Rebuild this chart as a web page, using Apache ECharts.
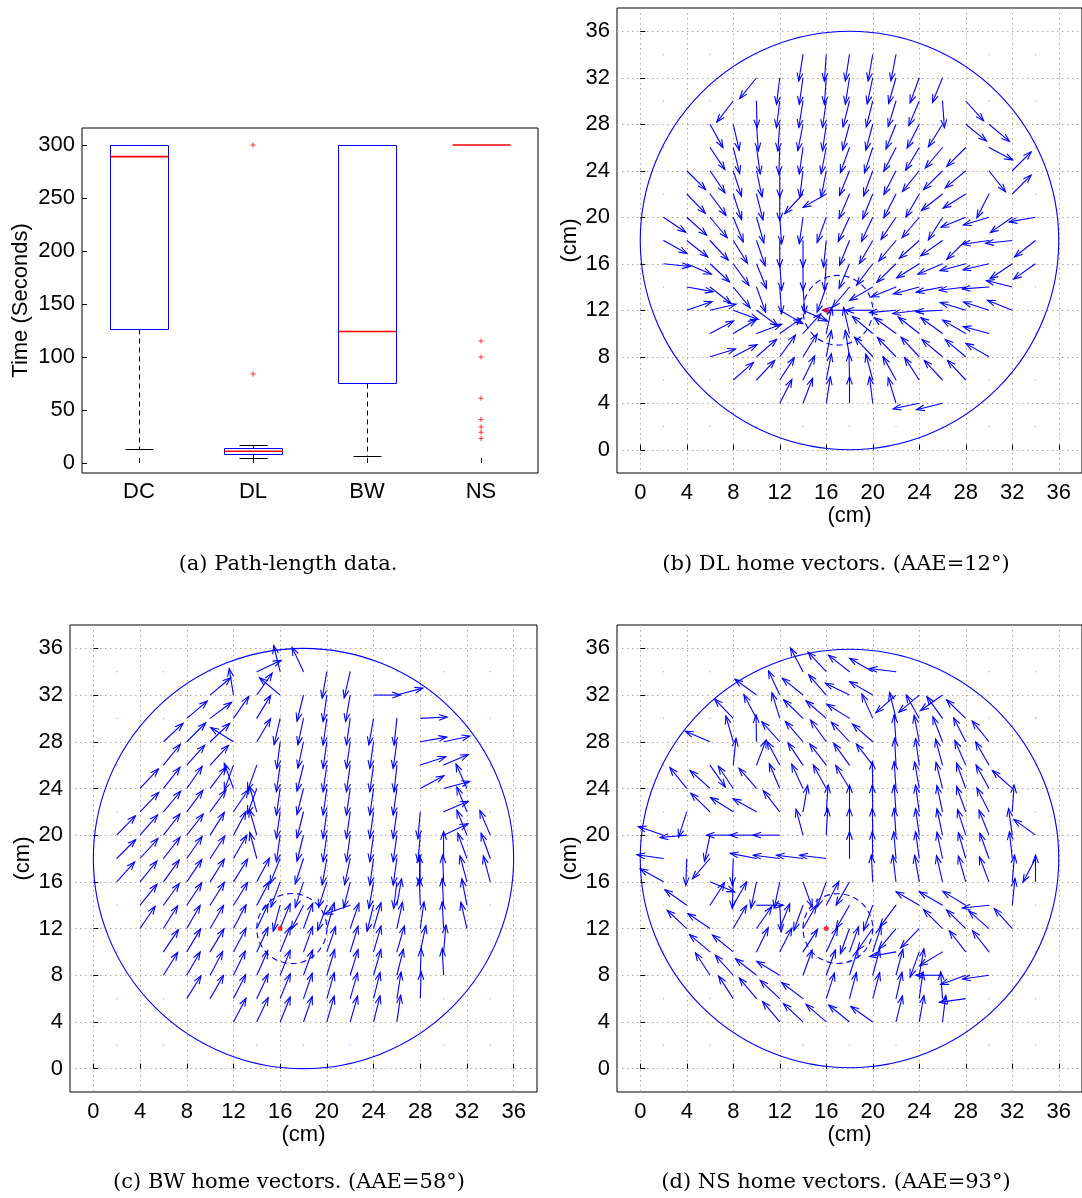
<!DOCTYPE html>
<html><head><meta charset="utf-8">
<script src="https://cdn.jsdelivr.net/npm/echarts@6/dist/echarts.min.js"></script>
<style>html,body{margin:0;padding:0;background:#fff}#c{width:1082px;height:1198px}</style>
</head><body><div id="c"></div>
<script>
// ---------- data ----------
const boxCategories = ['DC', 'DL', 'BW', 'NS'];
// [category index, lower whisker, q1, median, q3, upper whisker]
const boxStats = [
  [0, 13, 126, 289, 300, 300],
  [1, 5, 8.5, 11, 14, 17],
  [2, 7, 75, 124, 300, 300],
  [3, 300, 300, 300, 300, 300]
];
const boxOutliers = [[1, 84], [1, 300], [3, 115], [3, 100], [3, 61], [3, 41], [3, 34], [3, 29], [3, 23]];
const timeTicks = [0, 50, 100, 150, 200, 250, 300];
const cmTicks = [0, 4, 8, 12, 16, 20, 24, 28, 32, 36];
const dotCoords = [2, 6, 10, 14, 18, 22, 26, 30, 34];
const homePoint = [16, 12];
const arenaCircle = [18, 18, 18];   // cx, cy, r (cm)
const catchmentCircle = [17, 12, 3];

// rows: [y, first x, angles (deg) for x, x+2, ...]; null = no arrow
const dlRows = [
  [34, 14, [261, 266, 261, 260, 259]],
  [32, 10, [231, 263, 262, 266, 261, 258, 254, 250, 248]],
  [30, 8, [232, 271, 263, 261, 262, 256, 256, 253, 247, 274, 312]],
  [28, 6, [299, 283, 274, 266, 259, 262, 255, 255, 248, 243, 238, 321, 320]],
  [26, 6, [304, 284, 278, 268, 262, 259, 250, 252, 243, 239, 230, 225, 332]],
  [24, 4, [315, 304, 288, 282, 270, 263, 259, 248, 250, 243, 231, 225, 220, 308, 45]],
  [22, 4, [314, 307, 288, 284, 270, 227, 210, 247, 248, 243, 240, 218, 212, 243, 45]],
  [20, 2, [326, 318, 310, 292, 286, 274, 262, 250, 245, 245, 236, 230, 238, 202, 197, 215, 190]],
  [18, 2, [331, 322, 313, 302, 289, 270, 270, 264, 248, 240, 230, 222, 215, 225, 188, 186, 218]],
  [16, 2, [354, 337, 317, 306, 292, 274, 270, 266, 247, 233, 224, 212, 203, 195, 193, 214, 215]],
  [14, 4, [350, 322, 309, 290, 274, 274, 250, 230, 210, 202, 195, 191, 187, 184, 166]],
  [12, 4, [19, 13, 340, 324, 330, 336, null, 180, 180, 185, 187, 183, 163, 162, 158]],
  [10, 6, [28, 31, 20, 35, 48, 78, 103, 140, 144, 142, 144, 150, 165]],
  [8, 6, [17, 27, 41, 54, 58, 79, 99, 133, 134, 133, 140, 140, 150]],
  [6, 8, [41, 47, 57, 64, 79, 91, 105, 119, 123, 133, 133]],
  [4, 12, [63, 69, 81, 90, 97, 107, 192, 194]]
];
const bwRows = [
  [34, 14, [25, 104, 115, 260, 257]],
  [32, 10, [40, 99, 55, 140, 256, 262, 260, 0, 15]],
  [30, 8, [40, 37, 55, 59, 257, 258, 262, 262, 260, 264, 3]],
  [28, 6, [43, 45, 43, 148, 59, 263, 258, 262, 262, 262, 262, 10, 12]],
  [26, 6, [51, 48, 47, 250, 250, 262, 256, 262, 262, 262, 264, 18, 23]],
  [24, 4, [47, 52, 55, 53, 110, 250, 262, 256, 262, 262, 262, 262, 28, 15, 114]],
  [22, 4, [46, 50, 53, 54, 56, 106, 262, 256, 262, 262, 262, 262, 265, 23, 112]],
  [20, 2, [46, 49, 52, 52, 58, 62, 106, 262, 256, 262, 262, 262, 262, 265, 25, 112, 113]],
  [18, 2, [45, 48, 52, 55, 57, 60, 105, 248, 252, 260, 258, 262, 262, 268, 90, 110, 110]],
  [16, 2, [48, 51, 54, 56, 58, 58, 62, 250, 252, 252, 256, 260, 263, 92, 92, 105, 105]],
  [14, 4, [51, 54, 56, 58, 58, 62, 255, 243, 250, 199, 256, 80, 92, 93, 101]],
  [12, 4, [56, 58, 60, 60, 62, 65, 68, 70, 74, 71, 74, 78, 82, 93, 103]],
  [10, 6, [56, 59, 59, 62, 65, 68, 70, 71, 73, 74, 74, 78, 85]],
  [8, 6, [58, 60, 62, 64, 66, 68, 70, 73, 73, 74, 76, 88, 93]],
  [6, 8, [58, 60, 63, 65, 68, 71, 74, 74, 76, 81, 88]],
  [4, 12, [62, 65, 68, 71, 74, 74, 76, 82]]
];
const nsRows = [
  [34, 14, [118, 133, 142, 150, 173]],
  [32, 10, [144, 115, 141, 131, 154, 150, 221, 220, 215]],
  [30, 8, [134, 118, 107, 136, 139, 148, 114, 104, 119, 126, 136]],
  [28, 6, [157, 106, 91, 132, 131, 126, 133, 139, 94, 101, 111, 117, 129]],
  [26, 6, [305, 84, 69, 118, 124, 128, 126, 128, 93, 98, 105, 114, 120]],
  [24, 4, [129, 138, 124, 131, 113, 115, 119, 121, 91, 94, 100, 104, 110, 119, 138]],
  [22, 4, [252, 136, 148, 151, 128, 80, 86, 90, 91, 94, 98, 102, 110, 117, 86]],
  [20, 2, [161, 185, 258, 180, 180, 180, 105, 87, 90, 91, 94, 98, 102, 108, 112, 98, 144]],
  [18, 2, [172, 268, 229, 268, 169, 173, 173, 173, 90, 91, 95, 98, 102, 106, 110, 96, 242]],
  [16, 2, [151, null, 338, 268, 258, 258, 290, 250, 240, 93, 97, 100, 103, 106, 111, 85, 90]],
  [14, 4, [145, 57, 60, 0, 273, 250, 62, 240, 250, 233, 150, 150, 149, 186, 84]],
  [12, 4, [137, 146, 60, 55, 68, 60, null, 250, 235, 230, 226, 135, 136, 139, 132]],
  [10, 6, [140, 141, 64, 63, 57, 65, 70, 72, 190, 250, 211, 128, 128]],
  [8, 6, [123, 132, 142, 149, 70, 70, 72, 75, 75, 80, 180, 200, 188]],
  [6, 8, [123, 130, 137, 143, 72, 75, 75, 77, 82, 94, 188]],
  [4, 12, [130, 137, 139, 141, 145, 76, 80, 83]]
];
const captions = [
  ['(a) Path-length data.', 288, 565],
  ['(b) DL home vectors. (AAE=12°)', 836, 565],
  ['(c) BW home vectors. (AAE=58°)', 289, 1183],
  ['(d) NS home vectors. (AAE=93°)', 836, 1183]
];

// ---------- helpers ----------
const ARROW_LEN = 2.3;
const BLUE = '#0000ff';
const FONT = 'Liberation Sans';

function expandRows(rows) {
  const out = [];
  rows.forEach(([y, x0, angles]) => {
    angles.forEach((a, i) => { if (a !== null) out.push([x0 + 2 * i, y, a]); });
  });
  return out;
}
const dotData = [];
dotCoords.forEach(x => dotCoords.forEach(y => dotData.push([x, y])));

function arrowItem(params, api) {
  const x = api.value(0), y = api.value(1), a = api.value(2) * Math.PI / 180;
  const p0 = api.coord([x, y]);
  const p1 = api.coord([x + ARROW_LEN * Math.cos(a), y + ARROW_LEN * Math.sin(a)]);
  const dx = p1[0] - p0[0], dy = p1[1] - p0[1];
  const len = Math.hypot(dx, dy) || 1;
  const ux = -dx / len, uy = -dy / len;
  const h = len * 0.32, t = 20 * Math.PI / 180;
  const c = Math.cos(t), s = Math.sin(t);
  const h1 = [p1[0] + h * (ux * c - uy * s), p1[1] + h * (ux * s + uy * c)];
  const h2 = [p1[0] + h * (ux * c + uy * s), p1[1] + h * (-ux * s + uy * c)];
  const st = { stroke: BLUE, lineWidth: 1.1, fill: null };
  return {
    type: 'group', children: [
      { type: 'line', shape: { x1: p0[0], y1: p0[1], x2: p1[0], y2: p1[1] }, style: st },
      { type: 'polyline', shape: { points: [h1, p1, h2] }, style: st }
    ]
  };
}
function circleItem(dashed) {
  return function (params, api) {
    const c = api.coord([api.value(0), api.value(1)]);
    const r = api.size([api.value(2), 0])[0];
    return {
      type: 'circle', shape: { cx: c[0], cy: c[1], r: r },
      style: { stroke: BLUE, fill: null, lineWidth: 1.1, lineDash: dashed ? [6, 4] : null }
    };
  };
}
const crisp = v => Math.round(v) + 0.5;

const grids = [
  { left: 82, top: 128, width: 456, height: 345 },
  { left: 617, top: 8, width: 467, height: 465 },
  { left: 70, top: 625, width: 467, height: 467 },
  { left: 617, top: 625, width: 467, height: 467 }
].map(g => Object.assign(g, { show: true, borderColor: '#000', borderWidth: 1, backgroundColor: 'transparent' }));

const labelStyle = { fontFamily: FONT, fontSize: 22, color: '#000' };
const xAxes = [{
  type: 'category', gridIndex: 0, data: boxCategories, boundaryGap: true,
  axisLine: { show: false },
  axisTick: { show: true, inside: true, length: 5, alignWithLabel: true, lineStyle: { color: '#000' } },
  axisLabel: Object.assign({ margin: 8 }, labelStyle),
  splitLine: { show: false }
}];
const yAxes = [{
  type: 'value', gridIndex: 0, min: -9.5, max: 316,
  axisLine: { show: false },
  axisTick: { show: true, inside: true, length: 5, customValues: timeTicks, lineStyle: { color: '#000' } },
  axisLabel: Object.assign({ margin: 7, customValues: timeTicks }, labelStyle),
  splitLine: { show: false },
  name: 'Time (Seconds)', nameLocation: 'middle', nameGap: 50, nameTextStyle: labelStyle
}];
for (let g = 1; g <= 3; g++) {
  const common = {
    type: 'value', gridIndex: g, min: -2, max: 38,
    axisLine: { show: false },
    axisTick: { show: true, inside: true, length: 5, customValues: cmTicks, lineStyle: { color: '#000' } },
    splitLine: { show: true, lineStyle: { color: '#a8a8a8', type: [1.5, 3.5], width: 1 } },
    name: '(cm)', nameLocation: 'middle', nameTextStyle: labelStyle
  };
  xAxes.push(Object.assign({}, common, { axisLabel: Object.assign({ margin: 9, customValues: cmTicks }, labelStyle), nameGap: 29 }));
  yAxes.push(Object.assign({}, common, { axisLabel: Object.assign({ margin: 7, customValues: cmTicks }, labelStyle), nameGap: 36 }));
}

const series = [];
// box plot
series.push({
  type: 'custom', xAxisIndex: 0, yAxisIndex: 0, data: boxStats, z: 3,
  renderItem: function (params, api) {
    const i = api.value(0);
    const bw = api.size([1, 0])[0];
    const lo = crisp(api.coord([i, api.value(1)])[1]), q1 = crisp(api.coord([i, api.value(2)])[1]);
    const md = api.coord([i, api.value(3)])[1], q3 = crisp(api.coord([i, api.value(4)])[1]);
    const hi = crisp(api.coord([i, api.value(5)])[1]);
    const cx = crisp(api.coord([i, api.value(2)])[0]), hw = Math.round(bw * 0.25), cw = Math.round(bw * 0.125);
    const ch = [];
    const dash = { stroke: '#000', lineWidth: 1, lineDash: [5, 4] };
    const solid = { stroke: '#000', lineWidth: 1 };
    if (api.value(1) < api.value(2)) {
      ch.push({ type: 'line', shape: { x1: cx, y1: q1, x2: cx, y2: lo }, style: dash });
      ch.push({ type: 'line', shape: { x1: cx - cw, y1: lo, x2: cx + cw, y2: lo }, style: solid });
    }
    if (api.value(5) > api.value(4)) {
      ch.push({ type: 'line', shape: { x1: cx, y1: q3, x2: cx, y2: hi }, style: dash });
      ch.push({ type: 'line', shape: { x1: cx - cw, y1: hi, x2: cx + cw, y2: hi }, style: solid });
    }
    if (api.value(4) > api.value(2)) {
      ch.push({ type: 'rect', shape: { x: cx - hw, y: q3, width: 2 * hw, height: q1 - q3 }, style: { stroke: BLUE, fill: null, lineWidth: 1 } });
    }
    ch.push({ type: 'line', shape: { x1: cx - hw, y1: md, x2: cx + hw, y2: md }, style: { stroke: '#ff0000', lineWidth: 1.6 } });
    return { type: 'group', children: ch };
  }
});
series.push({
  type: 'scatter', xAxisIndex: 0, yAxisIndex: 0, data: boxOutliers, z: 4,
  symbol: 'path://M4,0h2v4h4v2h-4v4h-2v-4h-4v-2h4z', symbolSize: 5,
  itemStyle: { color: '#ff0000' }, silent: true
});
// quiver panels
[dlRows, bwRows, nsRows].forEach((rows, k) => {
  const g = k + 1;
  series.push({ type: 'scatter', xAxisIndex: g, yAxisIndex: g, data: dotData, symbolSize: 1.6, itemStyle: { color: '#a0a0ff' }, silent: true, z: 1 });
  series.push({ type: 'custom', xAxisIndex: g, yAxisIndex: g, data: [arenaCircle], renderItem: circleItem(false), silent: true, z: 2 });
  series.push({ type: 'custom', xAxisIndex: g, yAxisIndex: g, data: [catchmentCircle], renderItem: circleItem(true), silent: true, z: 2 });
  series.push({ type: 'custom', xAxisIndex: g, yAxisIndex: g, data: expandRows(rows), renderItem: arrowItem, silent: true, z: 3 });
  series.push({ type: 'scatter', xAxisIndex: g, yAxisIndex: g, data: [homePoint], symbolSize: 5, itemStyle: { color: '#ff0000' }, silent: true, z: 5 });
});

const chart = echarts.init(document.getElementById('c'), null, { renderer: 'canvas' });
chart.setOption({
  backgroundColor: '#fff',
  animation: false,
  grid: grids,
  xAxis: xAxes,
  yAxis: yAxes,
  series: series,
  graphic: captions.map(([t, x, y]) => ({
    type: 'text', x: x, y: y,
    style: { text: t, textAlign: 'center', textVerticalAlign: 'middle', font: '21px "DejaVu Serif"', fill: '#000' }
  }))
});
</script>
</body></html>
